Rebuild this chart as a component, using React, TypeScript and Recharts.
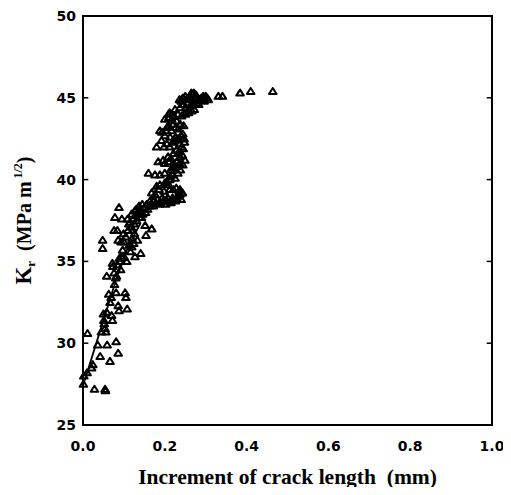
import React from 'react';
import {
  ComposedChart, Scatter, Line, XAxis, YAxis, ReferenceArea, ReferenceLine,
} from 'recharts';

// Kr measurements, [crack increment (mm), Kr (MPa m^1/2)]
const earlyGrowth: [number, number][] = [
  [0.001, 27.5], [0.002, 28.0], [0.011, 30.6], [0.010, 28.2], [0.021, 28.5], [0.024, 28.7],
  [0.028, 27.2], [0.054, 27.2], [0.055, 27.1], [0.036, 29.9], [0.042, 29.2], [0.059, 29.9],
  [0.066, 28.9], [0.081, 30.1], [0.086, 29.4], [0.050, 31.8], [0.051, 31.4], [0.054, 30.9],
  [0.056, 30.7], [0.045, 30.7], [0.052, 31.2], [0.066, 32.5], [0.070, 31.7], [0.072, 31.4],
  [0.086, 32.3], [0.088, 32.0], [0.103, 33.1], [0.105, 32.8], [0.108, 32.1], [0.081, 33.1],
  [0.077, 33.6], [0.058, 34.1], [0.063, 33.0], [0.069, 32.8], [0.058, 31.9], [0.072, 34.9],
  [0.073, 34.7], [0.092, 34.5], [0.089, 35.2], [0.082, 34.1], [0.076, 34.3], [0.080, 34.0],
  [0.084, 34.8], [0.090, 35.0], [0.094, 35.3],
];

const transition: [number, number][] = [
  [0.048, 36.3], [0.048, 35.8], [0.078, 37.7], [0.076, 36.9], [0.088, 38.3], [0.095, 37.6],
  [0.086, 36.3], [0.084, 36.9], [0.099, 36.7], [0.100, 35.3], [0.107, 35.0], [0.109, 37.6],
  [0.115, 37.4], [0.121, 36.9], [0.127, 35.3], [0.133, 36.3], [0.141, 35.5], [0.119, 37.9],
  [0.127, 38.1], [0.135, 37.9], [0.143, 37.7], [0.126, 36.7], [0.119, 35.9], [0.152, 37.2],
  [0.154, 36.6], [0.168, 37.0], [0.100, 36.2], [0.105, 36.5], [0.110, 36.9], [0.112, 37.3],
  [0.118, 37.1], [0.122, 37.6], [0.125, 37.3], [0.128, 37.8], [0.131, 37.5], [0.134, 38.0],
  [0.138, 37.7], [0.142, 38.1], [0.146, 37.9], [0.150, 38.3], [0.113, 36.0], [0.116, 35.6],
  [0.120, 36.4], [0.124, 36.1], [0.097, 35.7], [0.093, 36.2], [0.130, 38.2], [0.137, 38.4],
  [0.145, 38.5], [0.153, 38.0], [0.158, 38.2], [0.162, 38.4],
];

const steepRise: [number, number][] = [
  [0.156, 38.5], [0.164, 38.7], [0.172, 38.4], [0.187, 38.5], [0.196, 38.7], [0.205, 38.7],
  [0.213, 38.7], [0.221, 38.8], [0.229, 38.9], [0.237, 39.1], [0.166, 38.5], [0.172, 38.7],
  [0.178, 38.6], [0.183, 38.8], [0.190, 38.6], [0.194, 38.9], [0.202, 38.5], [0.207, 38.9],
  [0.215, 38.6], [0.219, 38.9], [0.226, 38.7], [0.232, 39.0], [0.240, 38.8], [0.243, 39.2],
  [0.235, 39.3], [0.228, 39.5], [0.212, 39.4], [0.198, 39.3], [0.186, 39.4], [0.176, 39.1],
  [0.168, 39.2], [0.180, 39.6], [0.188, 39.7], [0.200, 39.8], [0.209, 39.7], [0.221, 39.4],
  [0.237, 39.4], [0.160, 40.4], [0.176, 40.3], [0.188, 40.3], [0.200, 40.4], [0.213, 40.2],
  [0.221, 40.7], [0.229, 40.8], [0.209, 41.1], [0.184, 41.1], [0.196, 41.2], [0.237, 41.4],
  [0.249, 41.2], [0.180, 42.0], [0.192, 42.4], [0.200, 42.7], [0.213, 42.6], [0.225, 42.4],
  [0.237, 42.2], [0.245, 41.9], [0.188, 43.0], [0.205, 43.2], [0.217, 43.0], [0.233, 43.1],
  [0.244, 42.8], [0.209, 44.0], [0.217, 43.7], [0.229, 43.6], [0.241, 43.9], [0.205, 39.9],
  [0.212, 40.0], [0.218, 40.3], [0.225, 40.1], [0.232, 40.4], [0.238, 40.6], [0.244, 40.9],
  [0.214, 40.6], [0.222, 40.9], [0.230, 41.1], [0.236, 41.0], [0.243, 41.5], [0.200, 41.0],
  [0.208, 41.4], [0.215, 41.3], [0.221, 41.6], [0.228, 41.8], [0.234, 41.7], [0.241, 42.0],
  [0.248, 42.3], [0.198, 42.0], [0.205, 42.2], [0.212, 42.0], [0.219, 42.3], [0.226, 42.6],
  [0.232, 42.5], [0.240, 42.7], [0.247, 42.5], [0.193, 42.9], [0.203, 43.0], [0.210, 43.3],
  [0.220, 43.4], [0.227, 43.2], [0.238, 43.4], [0.246, 43.3], [0.200, 43.7], [0.210, 43.8],
  [0.222, 43.9], [0.232, 44.0], [0.212, 44.1], [0.225, 44.3],
];

const plateau: [number, number][] = [
  [0.237, 44.4], [0.249, 44.1], [0.258, 44.1], [0.266, 44.2], [0.250, 44.0], [0.252, 44.4],
  [0.245, 44.6], [0.236, 44.9], [0.244, 45.0], [0.253, 44.9], [0.262, 45.1], [0.271, 45.3],
  [0.278, 45.0], [0.286, 44.9], [0.294, 45.1], [0.304, 45.0], [0.278, 44.7], [0.268, 44.6],
  [0.240, 44.8], [0.250, 45.1], [0.256, 44.7], [0.262, 44.5], [0.270, 44.8], [0.276, 45.2],
  [0.283, 44.6], [0.289, 45.0], [0.296, 44.8], [0.300, 45.1], [0.306, 44.9], [0.258, 45.0],
  [0.265, 45.3], [0.272, 44.3], [0.282, 44.9], [0.331, 45.1], [0.341, 45.1], [0.384, 45.3],
  [0.410, 45.4], [0.464, 45.4],
];

// fitted R-curve through the initial growth
const fitIncrement = [0, 0.04, 0.08, 0.11, 0.14];
const fitKr = [27.4, 30.6, 33.8, 35.9, 37.3];

const xTicks = [0, 0.2, 0.4, 0.6, 0.8, 1.0];
const yTicks = [25, 30, 35, 40, 45, 50];
const innerTicks = [30, 35, 40, 45];

const points = [...earlyGrowth, ...transition, ...steepRise, ...plateau].map(([x, y]) => ({ x, y }));
const fitLine = fitIncrement.map((x, i) => ({ x, y: fitKr[i] }));

const tickFont = { fontFamily: 'DejaVu Sans', fontWeight: 700, fontSize: 14, fill: '#000' };
const tickLen = 0.013; // inward tick length in x units

const Triangle = (props: any) => {
  const { cx, cy } = props;
  if (cx == null || cy == null) return null;
  return (
    <polygon
      points={`${cx - 3.8},${cy + 2.7} ${cx + 3.8},${cy + 2.7} ${cx},${cy - 3.3}`}
      fill="none"
      stroke="#000"
      strokeWidth={2}
      strokeLinejoin="round"
    />
  );
};

const KrLabel = (props: any) => {
  const { viewBox } = props;
  const cx = viewBox.x + 23;
  const cy = viewBox.y + viewBox.height / 2;
  return (
    <text
      x={cx}
      y={cy}
      transform={`rotate(-90 ${cx} ${cy})`}
      textAnchor="middle"
      fontFamily="Liberation Serif"
      fontWeight={700}
      fontSize={20}
      fill="#000"
    >
      <tspan fontSize={23}>K</tspan>
      <tspan fontSize={13} dy={4}>r</tspan>
      <tspan dy={-4}>{'\u00a0\u00a0(MPa m'}</tspan>
      <tspan fontSize={12} dy={-9}>{'\u00a01/2'}</tspan>
      <tspan dy={9}>)</tspan>
    </text>
  );
};

export default function App() {
  // cancel the body margin so the chart can use the whole window
  return (
    <div style={{ margin: -8 }}>
      <ComposedChart
        width={511}
        height={495}
        margin={{ top: 16, right: 19, bottom: 0, left: 8 }}
      >
        <XAxis
          type="number"
          dataKey="x"
          domain={[0, 1]}
          ticks={xTicks}
          tickFormatter={(v: number) => v.toFixed(1)}
          height={70}
          axisLine={false}
          tickLine={false}
          tickSize={4}
          tickMargin={12}
          tick={tickFont}
          label={{
            value: 'Increment of crack length\u00a0\u00a0(mm)',
            position: 'insideBottom',
            offset: 11,
            style: { fontFamily: 'Liberation Serif', fontWeight: 700, fontSize: 21.5, fill: '#000' },
          }}
        />
        <YAxis
          yAxisId="left"
          type="number"
          dataKey="y"
          domain={[25, 50]}
          ticks={yTicks}
          width={75}
          axisLine={false}
          tickLine={false}
          tickSize={0}
          tickMargin={7}
          tick={tickFont}
          label={{ content: <KrLabel /> }}
        />
        <ReferenceArea
          yAxisId="left"
          x1={0}
          x2={1}
          y1={25}
          y2={50}
          fill="none"
          stroke="#000"
          strokeWidth={2}
        />
        {innerTicks.map((v) => (
          <ReferenceLine
            key={`l${v}`}
            yAxisId="left"
            segment={[{ x: 0, y: v }, { x: tickLen, y: v }]}
            stroke="#000"
            strokeWidth={1.5}
          />
        ))}
        {innerTicks.map((v) => (
          <ReferenceLine
            key={`r${v}`}
            yAxisId="left"
            segment={[{ x: 1 - tickLen, y: v }, { x: 1, y: v }]}
            stroke="#000"
            strokeWidth={1.5}
          />
        ))}
        <Scatter
          yAxisId="left"
          data={points}
          shape={<Triangle />}
          isAnimationActive={false}
        />
        <Line
          yAxisId="left"
          data={fitLine}
          dataKey="y"
          type="linear"
          stroke="#000"
          strokeWidth={1.8}
          dot={false}
          activeDot={false}
          isAnimationActive={false}
        />
      </ComposedChart>
    </div>
  );
}
